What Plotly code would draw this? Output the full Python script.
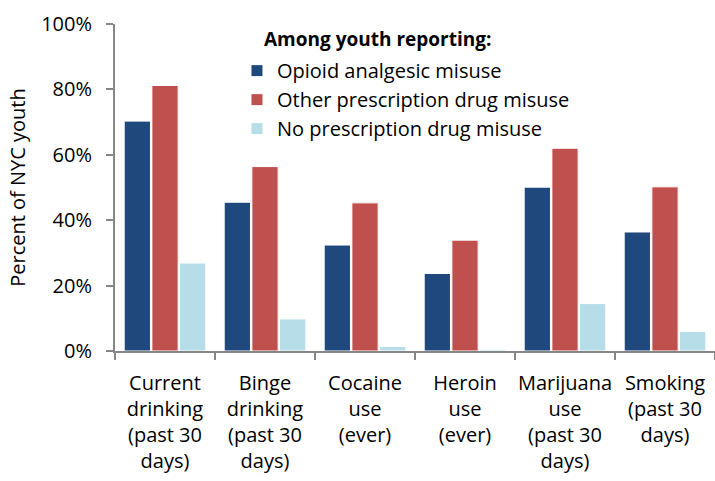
import plotly.graph_objects as go

# Outcome categories along the x axis (line breaks as printed)
categories = [
    "Current<br>drinking<br>(past 30<br>days)",
    "Binge<br>drinking<br>(past 30<br>days)",
    "Cocaine<br>use<br>(ever)",
    "Heroin<br>use<br>(ever)",
    "Marijuana<br>use<br>(past 30<br>days)",
    "Smoking<br>(past 30<br>days)",
]

# Share of NYC youth (fraction) in each group
opioid_misuse = [0.703, 0.455, 0.324, 0.237, 0.501, 0.364]
other_rx_misuse = [0.812, 0.564, 0.453, 0.339, 0.620, 0.502]
no_rx_misuse = [0.269, 0.098, 0.014, 0.005, 0.145, 0.060]

series_names = [
    "Opioid analgesic misuse",
    "Other prescription drug misuse",
    "No prescription drug misuse",
]
series_values = [opioid_misuse, other_rx_misuse, no_rx_misuse]
series_colors = ["#1F497D", "#C0504D", "#B7DEE8"]

y_tick_values = [0, 0.2, 0.4, 0.6, 0.8, 1.0]
y_tick_labels = ["0%", "20%", "40%", "60%", "80%", "100%"]

legend_heading = "<b>Among youth reporting:</b>"

FONT = "Open Sans, sans-serif"
AXIS_GRAY = "#868686"

fig = go.Figure()
for name, vals, color in zip(series_names, series_values, series_colors):
    fig.add_trace(go.Bar(
        x=categories,
        y=vals,
        name=name,
        marker=dict(color=color, line=dict(color="white", width=1)),
    ))

# Heading above the legend entries
fig.add_annotation(
    text=legend_heading,
    xref="paper", yref="paper",
    x=0.245, y=0.953,
    xanchor="left", yanchor="middle",
    showarrow=False,
    font=dict(size=19, color="#000000"),
)

fig.update_layout(
    width=715,
    height=481,
    margin=dict(l=115, r=0, t=24, b=130),
    paper_bgcolor="white",
    plot_bgcolor="white",
    barmode="group",
    bargap=0.17,
    bargroupgap=0.05,
    font=dict(family=FONT, size=20, color="#000000"),
    showlegend=True,
    legend=dict(
        x=0.2033,
        y=0.917,
        xanchor="left",
        yanchor="top",
        bgcolor="rgba(0,0,0,0)",
        font=dict(size=20),
        tracegroupgap=0,
    ),
    xaxis=dict(
        showline=True,
        linecolor=AXIS_GRAY,
        linewidth=2,
        ticks="outside",
        tickson="boundaries",
        ticklen=7,
        tickwidth=2,
        tickcolor=AXIS_GRAY,
        tickangle=0,
        tickfont=dict(size=20),
        ticklabelstandoff=13,
        showgrid=False,
    ),
    yaxis=dict(
        range=[0, 1.0],
        tickvals=y_tick_values,
        ticktext=y_tick_labels,
        showline=True,
        linecolor=AXIS_GRAY,
        linewidth=2,
        ticks="outside",
        ticklen=7,
        tickwidth=2,
        tickcolor=AXIS_GRAY,
        tickfont=dict(size=20),
        ticklabelstandoff=10,
        showgrid=False,
        zeroline=False,
        title=dict(text="Percent of NYC youth", font=dict(size=20), standoff=10),
    ),
)

fig.write_html("out.html")
